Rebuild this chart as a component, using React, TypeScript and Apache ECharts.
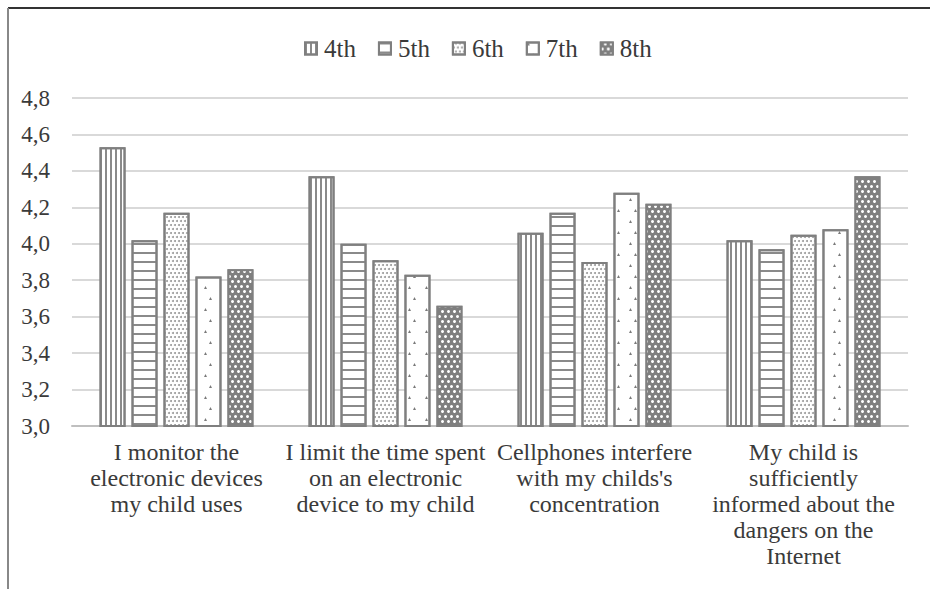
import React, { useEffect, useRef } from "react";
import * as echarts from "echarts";

const categories = [
  "I monitor the\nelectronic devices\nmy child uses",
  "I limit the time spent\non an electronic\ndevice to my child",
  "Cellphones interfere\nwith my childs's\nconcentration",
  "My child is\nsufficiently\ninformed about the\ndangers on the\nInternet",
];
const seriesNames = ["4th", "5th", "6th", "7th", "8th"];
const grade4 = [4.53, 4.37, 4.06, 4.02];
const grade5 = [4.02, 4.0, 4.17, 3.97];
const grade6 = [4.17, 3.91, 3.9, 4.05];
const grade7 = [3.82, 3.83, 4.28, 4.08];
const grade8 = [3.86, 3.66, 4.22, 4.37];
const yTicks = [3.0, 3.2, 3.4, 3.6, 3.8, 4.0, 4.2, 4.4, 4.6, 4.8];

const FONT = "Liberation Serif";
const BORDER = "#7f7f7f";
const TEXT = "#3a3a3a";

const decals: any[] = [
  { symbol: "rect", symbolSize: 1, color: "#8a8a8a", dashArrayX: [1.5, 2.5], dashArrayY: [4, 0], rotation: 0 },
  { symbol: "rect", symbolSize: 1, color: "#8a8a8a", dashArrayX: [4, 0], dashArrayY: [1.5, 6.5], rotation: 0 },
  { symbol: "circle", symbolSize: 1, color: "#9a9a9a", dashArrayX: [[1.6, 1.4], [0, 1.5, 1.5, 0]], dashArrayY: [1.6, 1.4], rotation: 0 },
  { symbol: "triangle", symbolSize: 1, color: "#7a7a7a", dashArrayX: [[0, 5, 3, 9], [3, 14]], dashArrayY: [3, 8], rotation: 0 },
  { symbol: "circle", symbolSize: 1, color: "#ffffff", dashArrayX: [[2.5, 2.5], [0, 2.5, 2.5, 0]], dashArrayY: [2.5, 1.5], rotation: 0 },
];
const fills = ["#ffffff", "#ffffff", "#ffffff", "#ffffff", "#7f7f7f"];
const values = [grade4, grade5, grade6, grade7, grade8];

export default function App() {
  const ref = useRef<HTMLDivElement>(null);
  useEffect(() => {
    if (!ref.current) return;
    const chart = echarts.init(ref.current, undefined, { renderer: "svg" });
    chart.setOption({
      animation: false,
      backgroundColor: "#ffffff",
      legend: {
        top: 31,
        left: 299,
        icon: "rect",
        itemWidth: 12,
        itemHeight: 12,
        itemGap: 22,
        textStyle: { fontFamily: FONT, fontSize: 25, color: TEXT, padding: [0, 0, 0, 2] },
        data: seriesNames,
      },
      grid: { left: 72, right: 22, top: 98, bottom: 163 },
      xAxis: {
        type: "category",
        data: categories,
        axisLine: { lineStyle: { color: "#bfbfbf", width: 2 } },
        axisTick: { show: false },
        axisLabel: { fontFamily: FONT, fontSize: 24, color: TEXT, lineHeight: 26, margin: 13, interval: 0 },
      },
      yAxis: {
        type: "value",
        min: 3.0,
        max: 4.8,
        interval: 0.2,
        axisLine: { show: false },
        axisTick: { show: false },
        splitLine: { lineStyle: { color: "#d9d9d9", width: 2 } },
        axisLabel: {
          fontFamily: FONT,
          fontSize: 23,
          color: TEXT,
          margin: 22,
          formatter: (v: number) => {
            const t = yTicks.find((x) => Math.abs(x - v) < 1e-6);
            return (t !== undefined ? t : v).toFixed(1).replace(".", ",");
          },
        },
      },
      series: seriesNames.map((name, i) => ({
        name,
        type: "bar",
        data: values[i],
        barWidth: 26,
        barGap: "23%",
        itemStyle: { color: fills[i], borderColor: BORDER, borderWidth: 2, decal: decals[i] },
      })),
      graphic: [
        { type: "line", shape: { x1: 8, y1: 8, x2: 930, y2: 8 }, style: { stroke: "#333333", lineWidth: 2 } },
        { type: "line", shape: { x1: 8, y1: 8, x2: 8, y2: 589 }, style: { stroke: "#888888", lineWidth: 2 } },
      ],
    });
    return () => chart.dispose();
  }, []);
  return <div ref={ref} style={{ position: "fixed", left: 0, top: 0, width: 930, height: 589 }} />;
}
